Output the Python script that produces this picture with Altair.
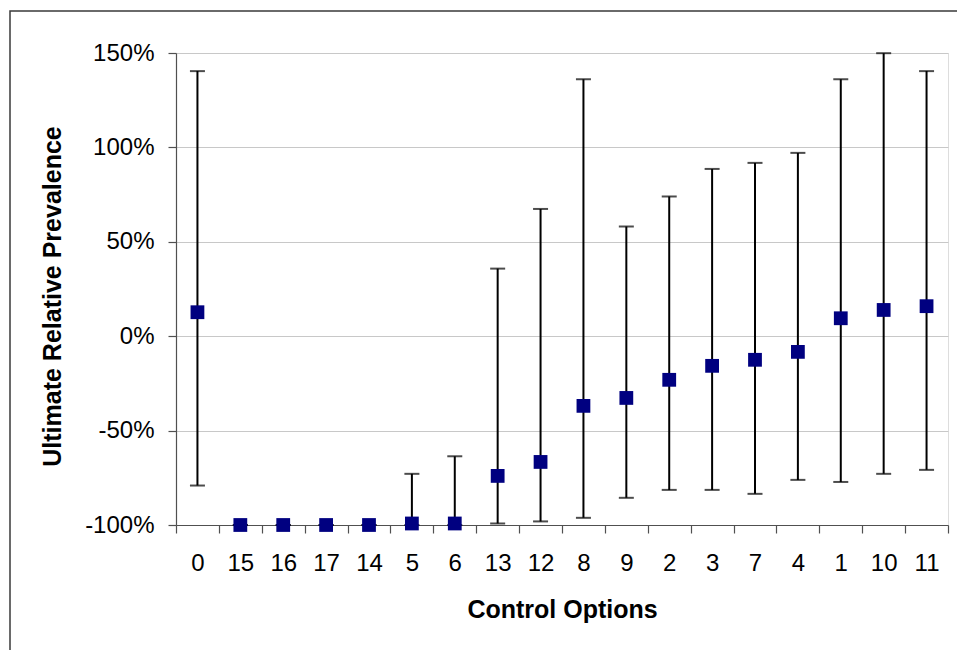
import altair as alt
import pandas as pd

categories = ["0", "15", "16", "17", "14", "5", "6", "13", "12", "8", "9", "2", "3", "7", "4", "1", "10", "11"]
mean_vals = [12.7, -100, -100, -100, -100, -99.2, -99.2, -74.0, -66.6, -36.9, -32.7, -23.1, -15.7, -12.5, -8.3, 9.5, 13.9, 15.9]
upper_vals = [140.4, -100, -100, -100, -100, -72.9, -63.6, 35.8, 67.4, 136.1, 58.1, 74.0, 88.6, 91.8, 97.1, 136.1, 149.9, 140.4]
lower_vals = [-79.1, -100, -100, -100, -100, -100, -100, -99.2, -98.1, -96.2, -85.6, -81.4, -81.4, -83.5, -76.1, -77.2, -72.9, -70.8]
y_ticks = [-100, -50, 0, 50, 100, 150]

df = pd.DataFrame({"cat": categories, "mean": mean_vals, "upper": upper_vals, "lower": lower_vals})

FONT = "Liberation Sans"

x_enc = alt.X(
    "cat:N",
    sort=categories,
    scale=alt.Scale(paddingInner=0, paddingOuter=0),
    axis=alt.Axis(
        title="Control Options",
        labelAngle=0,
        tickBand="extent",
        tickSize=8,
        labelPadding=18,
        titleX=386,
        titleY=84,
        titleBaseline="middle",
        grid=False,
    ),
)
y_scale = alt.Scale(domain=[-100, 150], nice=False, zero=False)
y_axis = alt.Axis(
    title="Ultimate Relative Prevalence",
    values=y_ticks,
    labelExpr="datum.value + '%'",
    tickSize=8,
    labelPadding=14,
    grid=True,
    gridColor="#c8c8c8",
    gridWidth=1,
    titleX=-124,
    titleY=243,
    titleAngle=-90,
    titleAlign="center",
    titleBaseline="middle",
)

base = alt.Chart(df)

border = base.mark_rect(fill=None, stroke="#3a3a3a", strokeWidth=1.5, clip=False).encode(
    x=alt.value(-166), x2=alt.value(800), y=alt.value(-42), y2=alt.value(640)
).transform_filter("datum.cat == '0'")

rules = base.mark_rule(color="black", strokeWidth=2).encode(
    x=x_enc,
    y=alt.Y("lower:Q", scale=y_scale, axis=y_axis),
    y2="upper:Q",
)
caps_hi = base.mark_tick(color="black", thickness=2, size=15, orient="horizontal").encode(
    x=x_enc, y=alt.Y("upper:Q", scale=y_scale)
)
caps_lo = base.mark_tick(color="black", thickness=2, size=15, orient="horizontal").encode(
    x=x_enc, y=alt.Y("lower:Q", scale=y_scale)
)
points = base.mark_point(shape="square", filled=True, size=190, color="#000080", opacity=1).encode(
    x=x_enc, y=alt.Y("mean:Q", scale=y_scale)
)

chart = (
    alt.layer(border, rules, caps_hi, caps_lo, points)
    .properties(
        width=772,
        height=472,
        autosize=alt.AutoSizeParams(type="none"),
        padding={"left": 176, "top": 53, "right": 9, "bottom": 125},
    )
    .configure_view(stroke=None)
    .configure(background="white")
    .configure_axis(
        labelFont=FONT,
        labelFontSize=24,
        labelColor="black",
        titleFont=FONT,
        titleFontSize=25,
        titleFontWeight="bold",
        titleColor="black",
        domainColor="#505050",
        domainWidth=1.2,
        tickColor="#505050",
        tickWidth=1.2,
    )
)

chart.save("out.html", embed_options={"renderer": "svg", "actions": False})
